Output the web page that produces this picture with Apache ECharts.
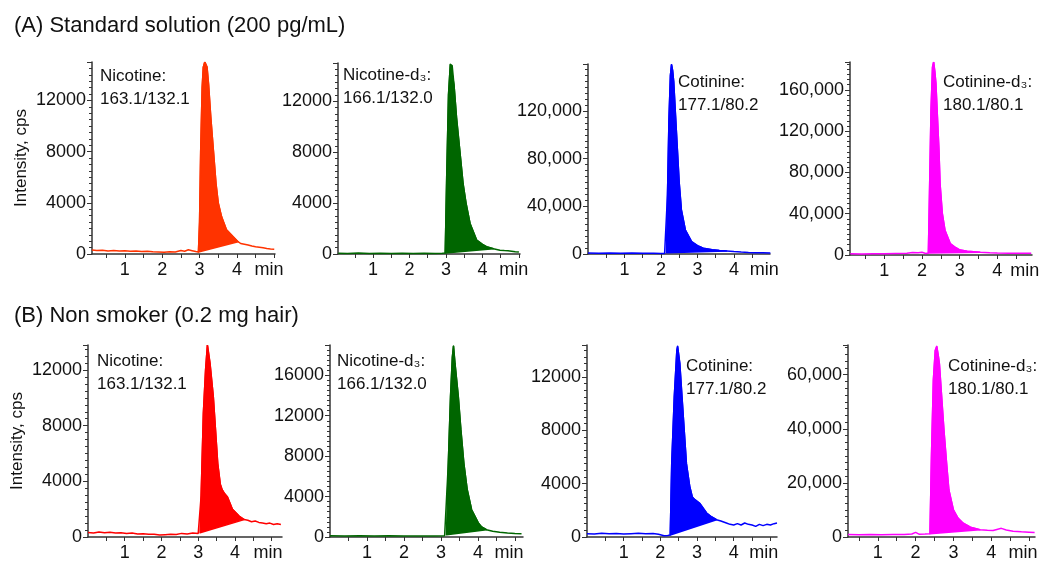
<!DOCTYPE html>
<html>
<head>
<meta charset="utf-8">
<script src="https://cdn.jsdelivr.net/npm/echarts@6/dist/echarts.min.js"></script>
<style>
html, body { margin: 0; padding: 0; background: #fff; }
#main { width: 1051px; height: 561px; }
</style>
</head>
<body>
<div id="main"></div>
<script>
// time (min), intensity (cps)
var nicotineA = [[0.12,320],[0.25,280],[0.4,300],[0.55,240],[0.7,270],[0.85,230],[1.0,260],[1.15,220],[1.3,240],[1.45,200],[1.6,210],[1.75,170],[1.9,150],[2.05,130],[2.2,180],[2.35,160],[2.5,280],[2.6,220],[2.7,330],[2.8,260],[2.9,190],[2.97,150],[3.0,2500],[3.03,8000],[3.07,13000],[3.1,14600],[3.14,15000],[3.2,14600],[3.24,13300],[3.30,10700],[3.37,8100],[3.44,5500],[3.50,4000],[3.59,2900],[3.72,1900],[3.90,1350],[4.03,960],[4.1,820],[4.2,760],[4.3,700],[4.4,620],[4.5,560],[4.6,520],[4.7,480],[4.8,430],[4.9,400],[5.0,380]];
var nicotineD3A = [[0.05,60],[0.3,40],[0.6,70],[0.9,40],[1.2,60],[1.5,30],[1.8,50],[2.1,40],[2.4,60],[2.7,40],[2.9,60],[2.98,80],[3.02,6000],[3.07,12500],[3.12,14900],[3.17,14800],[3.22,13300],[3.29,10700],[3.38,8100],[3.47,5500],[3.55,4000],[3.66,2400],[3.84,1100],[4.0,750],[4.11,570],[4.3,420],[4.48,300],[4.6,270],[4.7,250],[4.8,220],[4.9,180],[5.0,150]];
var cotinineA = [[0.0,800],[0.3,700],[0.6,900],[0.9,700],[1.2,800],[1.5,600],[1.8,700],[2.0,500],[2.1,400],[2.15,1000],[2.18,50000],[2.22,113000],[2.26,150000],[2.29,159000],[2.32,154000],[2.35,144600],[2.40,116000],[2.45,88000],[2.50,60000],[2.56,37000],[2.67,20000],[2.84,10500],[3.0,7000],[3.16,4800],[3.4,3500],[3.6,2900],[3.8,2500],[4.0,2000],[4.2,1600],[4.4,1300],[4.6,1100],[4.8,1000],[5.0,900]];
var cotinineD3A = [[0.1,1200],[0.4,1000],[0.7,1300],[1.0,1100],[1.3,1400],[1.6,1600],[1.75,2400],[1.9,2200],[2.0,2600],[2.1,1500],[2.17,2000],[2.2,60000],[2.24,140000],[2.28,182000],[2.31,187000],[2.34,178000],[2.37,166000],[2.41,134000],[2.45,102000],[2.48,69000],[2.54,40000],[2.61,24000],[2.75,11000],[2.9,7000],[3.01,4800],[3.2,3600],[3.54,2600],[3.8,2200],[4.0,2000],[4.3,1800],[4.6,1700],[4.9,1600]];

var nicotineB = [[0.0,320],[0.15,280],[0.3,360],[0.45,300],[0.6,340],[0.75,280],[0.9,300],[1.05,250],[1.2,280],[1.35,220],[1.5,240],[1.65,190],[1.8,200],[1.95,140],[2.1,170],[2.25,200],[2.4,180],[2.55,260],[2.7,220],[2.85,280],[3.0,260],[3.05,300],[3.08,3000],[3.14,8900],[3.2,12000],[3.25,13800],[3.32,12500],[3.41,10100],[3.47,7700],[3.53,5300],[3.6,3800],[3.65,3400],[3.72,3100],[3.79,2900],[3.93,2000],[4.11,1500],[4.25,1250],[4.35,1200],[4.45,1100],[4.55,1150],[4.65,1050],[4.75,1000],[4.85,950],[4.95,1000],[5.05,900],[5.15,950],[5.25,900]];
var nicotineD3B = [[0.0,120],[0.4,100],[0.8,130],[1.2,100],[1.6,120],[2.0,90],[2.4,110],[2.8,90],[3.1,120],[3.15,230],[3.2,7300],[3.26,13900],[3.31,17800],[3.34,18900],[3.38,17200],[3.47,13900],[3.54,10600],[3.62,7300],[3.71,4700],[3.83,2700],[4.01,1400],[4.1,1000],[4.23,720],[4.4,560],[4.59,460],[4.8,400],[5.0,350],[5.18,330]];
var cotinineB = [[0.0,250],[0.2,220],[0.4,280],[0.6,240],[0.8,260],[1.0,220],[1.2,250],[1.4,280],[1.6,240],[1.8,260],[1.95,200],[2.1,100],[2.2,120],[2.27,150],[2.31,5500],[2.38,10500],[2.45,14000],[2.47,14300],[2.53,13000],[2.59,10500],[2.65,8000],[2.71,5500],[2.80,3800],[2.87,3000],[2.94,2800],[3.08,2500],[3.26,1800],[3.4,1500],[3.53,1300],[3.65,1200],[3.8,1050],[3.9,950],[4.0,900],[4.1,1000],[4.2,900],[4.3,1050],[4.4,950],[4.5,900],[4.6,800],[4.7,950],[4.8,850],[4.9,950],[5.0,900],[5.1,1000],[5.18,1050]];
var cotinineD3B = [[0.21,900],[0.5,800],[0.8,900],[1.1,850],[1.4,900],[1.7,950],[1.9,1100],[2.0,1700],[2.1,1000],[2.25,1100],[2.38,1200],[2.42,30000],[2.47,58000],[2.52,69000],[2.56,70500],[2.6,67000],[2.63,63900],[2.69,51600],[2.75,39400],[2.82,27200],[2.88,17400],[3.0,10000],[3.12,7000],[3.26,5100],[3.45,3600],[3.7,2700],[3.9,2500],[4.05,2400],[4.15,2800],[4.27,3200],[4.4,2600],[4.58,2100],[4.8,1900],[5.0,1800],[5.15,1700]];

// integrated peak windows [start, end] (min)
var peakWindows = [[2.97,4.03],[2.98,4.3],[2.15,3.8],[2.17,3.54],[3.05,4.25],[3.15,4.23],[2.27,3.53],[2.38,3.7]];

var xTickValues = [0.5,1,1.5,2,2.5,3,3.5,4,4.5,5];
var xLabelValues = [1,2,3,4];
var notes = ['Nicotine:\n163.1/132.1','Nicotine-d\u2083:\n166.1/132.0','Cotinine:\n177.1/80.2','Cotinine-d\u2083:\n180.1/80.1',
             'Nicotine:\n163.1/132.1','Nicotine-d\u2083:\n166.1/132.0','Cotinine:\n177.1/80.2','Cotinine-d\u2083:\n180.1/80.1'];
var headings = ['(A) Standard solution (200 pg/mL)','(B) Non smoker (0.2 mg hair)'];

var FONT = '"Liberation Sans", Arial, sans-serif';
var AXIS = '#333';

var panels = [
  {trace: nicotineA,   color: '#ff3300', box: [92, 62, 183, 192],  x: [0.12, 5.02], yMax: 15000,  yStep: 4000,  minAt: 4.86, note: [100, 65],  yName: true},
  {trace: nicotineD3A, color: '#006600', box: [338, 63, 182, 191], x: [0.04, 5.03], yMax: 15000,  yStep: 4000,  minAt: 4.86, note: [343, 64]},
  {trace: cotinineA,   color: '#0000ff', box: [588, 64, 182, 190], x: [0, 4.99],    yMax: 159500, yStep: 40000, minAt: 4.83, note: [678, 71]},
  {trace: cotinineD3A, color: '#ff00ff', box: [850, 62, 182, 193], x: [0.09, 4.92], yMax: 187000, yStep: 40000, minAt: 4.73, note: [943, 71]},
  {trace: nicotineB,   color: '#ff0000', box: [88, 345, 194, 192], x: [0, 5.28],    yMax: 13800,  yStep: 4000,  minAt: 4.9,  note: [97, 350],  yName: true},
  {trace: nicotineD3B, color: '#006600', box: [330, 345, 193, 192], x: [0, 5.22],   yMax: 19000,  yStep: 4000,  minAt: 4.84, note: [337, 350]},
  {trace: cotinineB,   color: '#0000ff', box: [587, 345, 190, 192], x: [0, 5.18],   yMax: 14400,  yStep: 4000,  minAt: 4.82, note: [686, 355]},
  {trace: cotinineD3B, color: '#ff00ff', box: [848, 345, 187, 192], x: [0.21, 5.16], yMax: 71000, yStep: 20000, minAt: 4.84, note: [948, 355]}
];

// filled peak: trace points inside the window, closed by a straight baseline
function peakFill(p, win) {
  return function (params, api) {
    var pts = p.trace.filter(function (d) { return d[0] >= win[0] && d[0] <= win[1]; })
      .map(function (d) { return api.coord(d); });
    return {
      type: 'polygon', shape: { points: pts },
      style: { fill: p.color, stroke: p.color, lineWidth: 1.5, lineJoin: 'round' }
    };
  };
}

var chart = echarts.init(document.getElementById('main'));
var option = {
  animation: false,
  backgroundColor: '#fff',
  textStyle: { fontFamily: FONT },
  title: [],
  grid: [], xAxis: [], yAxis: [], series: []
};

option.title.push({ text: headings[0], left: 14, top: 15, padding: 0, textStyle: { fontSize: 22, fontWeight: 'normal', color: '#111', fontFamily: FONT } });
option.title.push({ text: headings[1], left: 14, top: 305, padding: 0, textStyle: { fontSize: 22, fontWeight: 'normal', color: '#111', fontFamily: FONT } });

panels.forEach(function (p, i) {
  option.grid.push({ left: p.box[0], top: p.box[1], width: p.box[2], height: p.box[3], outerBoundsMode: 'none' });
  option.title.push({
    text: notes[i], left: p.note[0], top: p.note[1], padding: 0,
    textStyle: { fontSize: 17, lineHeight: 23, fontWeight: 'normal', color: '#111', fontFamily: FONT }
  });
  option.xAxis.push({
    type: 'value', gridIndex: i, min: p.x[0], max: p.x[1],
    axisLine: { show: true, onZero: false, lineStyle: { color: AXIS, width: 1.5 } },
    axisTick: { show: true, length: 4, customValues: xTickValues.filter(function (v) { return v >= p.x[0] && v <= p.x[1]; }), lineStyle: { color: AXIS } },
    axisLabel: {
      customValues: xLabelValues.concat([p.minAt]), margin: 7, fontSize: 18, color: '#111', fontFamily: FONT,
      formatter: function (v) { return Math.abs(v - p.minAt) < 1e-6 ? 'min' : String(v); }
    },
    splitLine: { show: false }
  });
  option.yAxis.push({
    type: 'value', gridIndex: i, min: 0, max: p.yMax, interval: p.yStep,
    name: p.yName ? 'Intensity, cps' : '', nameLocation: 'middle', nameGap: 62,
    nameTextStyle: { fontSize: 17, color: '#111', fontFamily: FONT },
    axisLine: { show: true, lineStyle: { color: AXIS, width: 1.5 } },
    axisTick: { show: true, length: 5, lineStyle: { color: AXIS } },
    minorTick: { show: true, splitNumber: 8, length: 3, lineStyle: { color: AXIS } },
    axisLabel: {
      showMaxLabel: false, margin: 6, fontSize: 18, color: '#111', fontFamily: FONT,
      formatter: function (v) { return v >= 20000 ? v.toLocaleString('en-US') : String(v); }
    },
    splitLine: { show: false }
  });
  option.series.push({
    type: 'line', xAxisIndex: i, yAxisIndex: i, z: 2, data: p.trace, showSymbol: false, symbol: 'none',
    clip: true, silent: true, lineStyle: { color: p.color, width: 1.5 }
  });
  option.series.push({
    type: 'custom', xAxisIndex: i, yAxisIndex: i, z: 3, clip: true, silent: true,
    data: [[peakWindows[i][0], 0]], renderItem: peakFill(p, peakWindows[i])
  });
});

chart.setOption(option);
</script>
</body>
</html>
